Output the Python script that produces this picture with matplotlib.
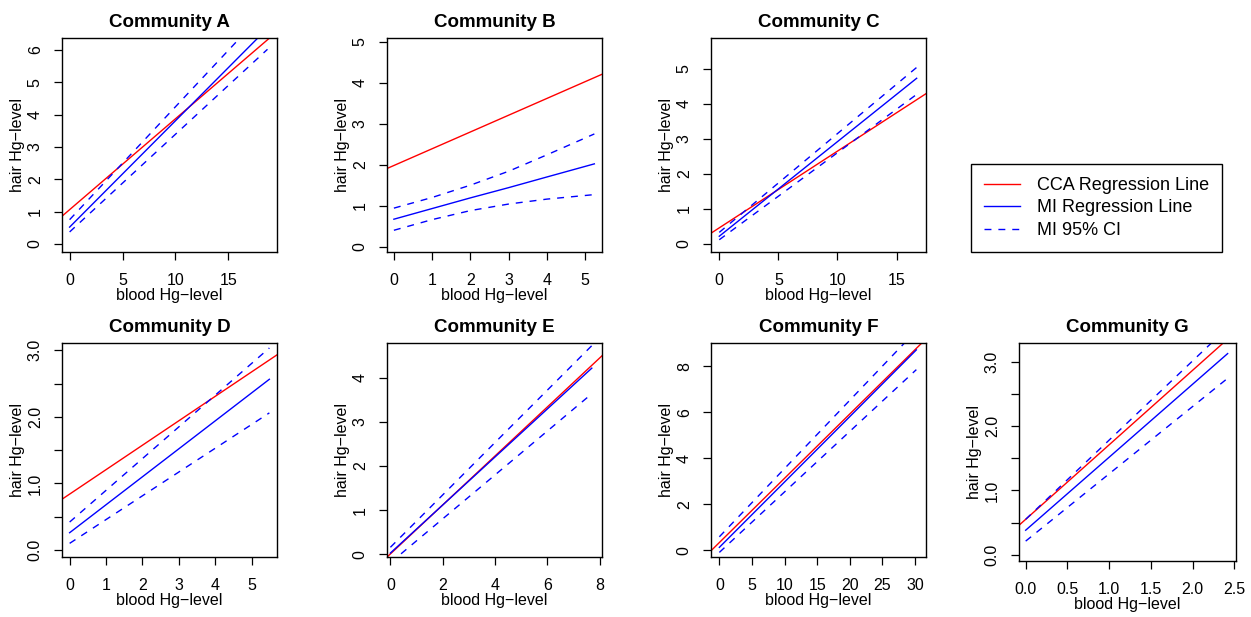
import matplotlib
matplotlib.use("Agg")
import matplotlib.pyplot as plt
from matplotlib.lines import Line2D

plt.rcParams["font.family"] = ["Liberation Sans", "DejaVu Sans"]

RED = "#FF0000"
BLUE = "#0000FF"

FIG_W, FIG_H = 1251, 617

COMMUNITIES = ["A", "B", "C", "D", "E", "F", "G"]

# CCA regression line: drawn right across each panel
CCA_INTERCEPT = [1.06, 1.98, 0.46, 0.84, 0.01, 0.33, 0.55]
CCA_SLOPE = [0.281, 0.409, 0.219, 0.367, 0.555, 0.280, 1.162]

# MI regression line and 95% CI over the observed blood Hg range
MI_X = [
    [0, 18.7],
    [0, 1, 2, 3, 4, 5.24],
    [0, 16.7],
    [0, 5.49],
    [0, 7.7],
    [0, 30.2],
    [0, 2.42],
]
MI_FIT = [
    [0.52, 6.67],
    [0.67, 0.93, 1.19, 1.44, 1.70, 2.02],
    [0.22, 4.73],
    [0.26, 2.565],
    [0.03, 4.22],
    [0.12, 8.72],
    [0.38, 3.135],
]
MI_LOWER = [
    [0.37, 6.02],
    [0.40, 0.66, 0.88, 1.04, 1.16, 1.27],
    [0.12, 4.27],
    [0.10, 2.06],
    [-0.19, 3.64],
    [-0.10, 7.86],
    [0.21, 2.75],
]
MI_UPPER = [
    [0.75, 7.28],
    [0.94, 1.20, 1.50, 1.84, 2.24, 2.75],
    [0.33, 5.04],
    [0.42, 3.035],
    [0.16, 4.73],
    [0.58, 9.56],
    [0.55, 3.54],
]

X_LIMITS = [(-0.72, 19.6), (-0.18, 5.44), (-0.70, 17.49), (-0.21, 5.70),
            (-0.13, 8.09), (-1.28, 31.68), (-0.08, 2.52)]
Y_LIMITS = [(-0.25, 6.37), (-0.13, 5.09), (-0.23, 5.88), (-0.105, 3.11),
            (-0.06, 4.79), (-0.30, 9.02), (-0.10, 3.30)]

X_TICKS = [
    ["0", "5", "10", "15"],
    ["0", "1", "2", "3", "4", "5"],
    ["0", "5", "10", "15"],
    ["0", "1", "2", "3", "4", "5"],
    ["0", "2", "4", "6", "8"],
    ["0", "5", "10", "15", "20", "25", "30"],
    ["0.0", "0.5", "1.0", "1.5", "2.0", "2.5"],
]
Y_TICKS = [
    ["0", "1", "2", "3", "4", "5", "6"],
    ["0", "1", "2", "3", "4", "5"],
    ["0", "1", "2", "3", "4", "5"],
    ["0.0", "0.5", "1.0", "1.5", "2.0", "2.5", "3.0"],
    ["0", "1", "2", "3", "4"],
    ["0", "2", "4", "6", "8"],
    ["0.0", "0.5", "1.0", "1.5", "2.0", "2.5", "3.0"],
]
# R drops the half-step labels when they would collide
Y_HIDDEN = ["0.5", "1.5", "2.5"]

LEGEND_LABELS = ["CCA Regression Line", "MI Regression Line", "MI 95% CI"]

# panel boxes in pixels: left, top, right, bottom
PANEL_BOX = [
    (62, 38, 277, 252), (387, 38, 602, 252), (711, 38, 926, 252),
    (62, 343, 277, 557), (387, 343, 602, 557), (711, 343, 926, 557),
    (1019, 343, 1236, 561),
]

LW = 1.0
DASH = (0, (5, 5))

fig = plt.figure(figsize=(FIG_W / 100, FIG_H / 100), dpi=100)

for i, name in enumerate(COMMUNITIES):
    l, t, r, b = PANEL_BOX[i]
    ax = fig.add_axes([l / FIG_W, 1 - b / FIG_H, (r - l) / FIG_W, (b - t) / FIG_H])

    ax.axline((0, CCA_INTERCEPT[i]), slope=CCA_SLOPE[i], color=RED, lw=LW)
    ax.plot(MI_X[i], MI_FIT[i], color=BLUE, lw=LW)
    ax.plot(MI_X[i], MI_LOWER[i], color=BLUE, lw=LW, linestyle=DASH)
    ax.plot(MI_X[i], MI_UPPER[i], color=BLUE, lw=LW, linestyle=DASH)

    ax.set_xlim(*X_LIMITS[i])
    ax.set_ylim(*Y_LIMITS[i])

    ax.set_xticks([float(v) for v in X_TICKS[i]])
    ax.set_xticklabels(X_TICKS[i])
    ax.set_yticks([float(v) for v in Y_TICKS[i]])
    ax.set_yticklabels(["" if v in Y_HIDDEN else v for v in Y_TICKS[i]])

    ax.tick_params(direction="out", length=5.8, width=0.9, labelsize=11.5,
                   colors="black")
    ax.tick_params(axis="x", pad=9)
    ax.tick_params(axis="y", pad=8, labelrotation=90)
    plt.setp(ax.get_yticklabels(), va="center")
    for sp in ax.spines.values():
        sp.set_linewidth(1.0)
        sp.set_color("black")

    ax.set_xlabel("blood Hg\u2212level", fontsize=11.5, labelpad=0)
    ax.set_ylabel("hair Hg\u2212level", fontsize=11.5, labelpad=2)
    ax.set_title(f"Community {name}", fontsize=13.5, fontweight="bold", pad=8)

handles = [
    Line2D([], [], color=RED, lw=LW),
    Line2D([], [], color=BLUE, lw=LW),
    Line2D([], [], color=BLUE, lw=LW, linestyle=DASH),
]
leg = fig.legend(
    handles, LEGEND_LABELS,
    loc="center",
    bbox_to_anchor=((971 + 1222) / 2 / FIG_W, 1 - (162 + 254) / 2 / FIG_H),
    fontsize=13, frameon=True, fancybox=False, framealpha=1,
    edgecolor="black", handlelength=2.0, handletextpad=0.9,
    borderpad=0.75, labelspacing=0.3,
)
leg.get_frame().set_linewidth(1.0)

fig.savefig("out.png", dpi=100)
